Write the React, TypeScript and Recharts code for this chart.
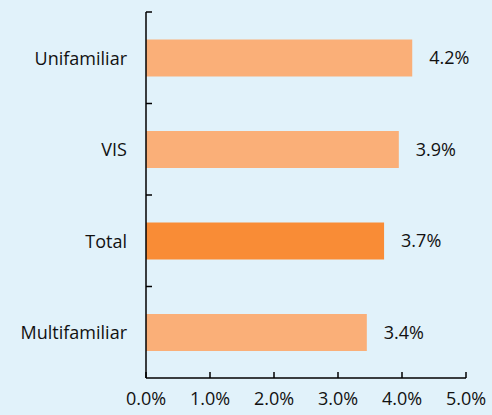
import React from 'react';
import { BarChart, Bar, XAxis, YAxis, Cell, LabelList } from 'recharts';

const categories = ['Unifamiliar', 'VIS', 'Total', 'Multifamiliar'];
const values = [4.16, 3.95, 3.72, 3.45];
const valueLabels = ['4.2%', '3.9%', '3.7%', '3.4%'];
const barColors = ['#FAAF78', '#FAAF78', '#F98C36', '#FAAF78'];
const xTicks = [0, 1, 2, 3, 4, 5];

const FONT = '"Open Sans", sans-serif';

const chartData = categories.map((name, i) => ({
  name,
  value: values[i],
  label: valueLabels[i],
}));

// category tick: label on the left, small inward tick at the top edge of each band
const CategoryTick = ({ x, y, payload }: any) => {
  const half = payload && payload.offset ? payload.offset : 0;
  return (
    <g>
      <line x1={x} x2={x + 6} y1={y - half} y2={y - half} stroke="#000" strokeWidth={1.5} />
      <text x={x - 19} y={y} textAnchor="end" dominantBaseline="central" fill="#111" fontSize={18} fontFamily={FONT}>
        {payload.value}
      </text>
    </g>
  );
};

const ValueTick = ({ x, y, payload }: any) => (
  <g>
    <line x1={x} x2={x} y1={y} y2={y - 6} stroke="#000" strokeWidth={1.5} />
    <text x={x} y={y + 20} textAnchor="middle" dominantBaseline="central" fill="#111" fontSize={18} fontFamily={FONT}>
      {payload.value.toFixed(1) + '%'}
    </text>
  </g>
);

export default function App() {
  return (
    <div style={{ position: 'absolute', left: 0, top: 0, width: 492, height: 415, background: '#E1F2FA' }}>
      <BarChart
        width={492}
        height={415}
        data={chartData}
        layout="vertical"
        margin={{ top: 12, right: 26, left: 0, bottom: 0 }}
        barCategoryGap="30%"
      >
        <XAxis
          type="number"
          domain={[0, 5]}
          ticks={xTicks}
          height={37}
          tickSize={0}
          tickMargin={0}
          tickLine={false}
          axisLine={{ stroke: '#000', strokeWidth: 1.5 }}
          tick={<ValueTick />}
          interval={0}
        />
        <YAxis
          type="category"
          dataKey="name"
          width={146}
          tickSize={0}
          tickMargin={0}
          tickLine={false}
          axisLine={{ stroke: '#000', strokeWidth: 1.5 }}
          tick={<CategoryTick />}
          interval={0}
        />
        <Bar dataKey="value" isAnimationActive={false}>
          {chartData.map((d, i) => (
            <Cell key={d.name} fill={barColors[i]} />
          ))}
          <LabelList dataKey="label" position="right" offset={17} fill="#111" fontSize={18} fontFamily={FONT} />
        </Bar>
      </BarChart>
    </div>
  );
}
